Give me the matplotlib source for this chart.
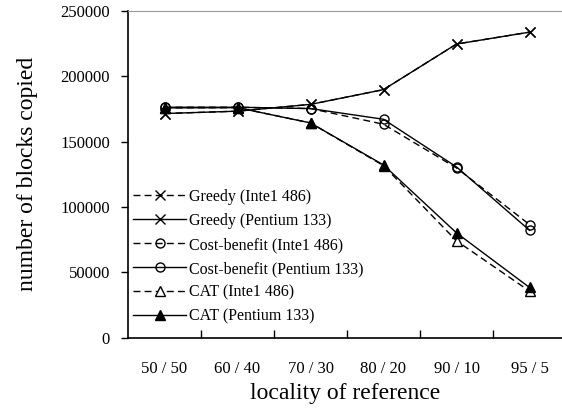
import matplotlib.pyplot as plt
import numpy as np

categories = ['50 / 50', '60 / 40', '70 / 30', '80 / 20', '90 / 10', '95 / 5']

greedy_486 = [171500, 173300, 178500, 189800, 224700, 233800]
greedy_p133 = [171500, 173300, 178500, 189800, 224700, 233800]
cost_486 = [176300, 176300, 175300, 163300, 129800, 86500]
cost_p133 = [176300, 176300, 175300, 167100, 130600, 82100]
cat_486 = [175800, 176000, 164300, 131600, 74000, 35500]
cat_p133 = [175800, 176000, 164300, 132100, 80100, 38300]

series = [
    ('Greedy (Inte1 486)', greedy_486, 'x', '--', 'none'),
    ('Greedy (Pentium 133)', greedy_p133, 'x', '-', 'none'),
    ('Cost-benefit (Inte1 486)', cost_486, 'o', '--', 'none'),
    ('Cost-benefit (Pentium 133)', cost_p133, 'o', '-', 'none'),
    ('CAT (Inte1 486)', cat_486, '^', '--', 'white'),
    ('CAT (Pentium 133)', cat_p133, '^', '-', 'black'),
]

plt.rcParams['font.family'] = 'Liberation Serif'

fig = plt.figure(figsize=(5.62, 4.17), dpi=100)
ax = fig.add_axes([128 / 562, 1 - 337.5 / 417, 1 - 128 / 562, (337.5 - 11) / 417])

x = np.arange(len(categories))
for label, vals, mk, ls, fc in series:
    ms = 7 if mk == 'x' else 6.5
    line, = ax.plot(x, vals, color='black', linestyle=ls, linewidth=1.0,
                    marker=mk, markersize=ms, markerfacecolor=fc,
                    markeredgecolor='black', markeredgewidth=1.0, label=label)
    if ls == '--':
        line.set_dashes((5, 3))

ax.set_xlim(-0.5, -0.5 + (562 - 128) / 73)
ax.set_ylim(0, 250000)
ax.set_yticks(np.arange(0, 250001, 50000))
ax.set_xticks(x)
ax.set_xticklabels(categories, fontsize=12)
ax.set_xticks(x[:-1] + 0.5, minor=True)
ax.tick_params(axis='x', which='major', length=0, pad=17)
ax.tick_params(axis='x', which='minor', direction='in', length=6, width=1)
ax.tick_params(axis='y', direction='out', length=5, width=1, labelsize=12, pad=8)

ax.spines['right'].set_visible(False)
ax.spines['top'].set_color('#999999')
ax.spines['left'].set_linewidth(1.2)
ax.spines['bottom'].set_linewidth(1.2)

ax.set_ylabel('number of blocks copied', fontsize=17, labelpad=16)
ax.set_xlabel('locality of reference', fontsize=17, labelpad=4)

ax.legend(loc='upper left', bbox_to_anchor=(0.012, 0.455), frameon=False,
          fontsize=11.5, handlelength=3.3, labelspacing=0.5, handletextpad=0.2,
          borderaxespad=0, borderpad=0)

fig.savefig('out.png', dpi=100)
